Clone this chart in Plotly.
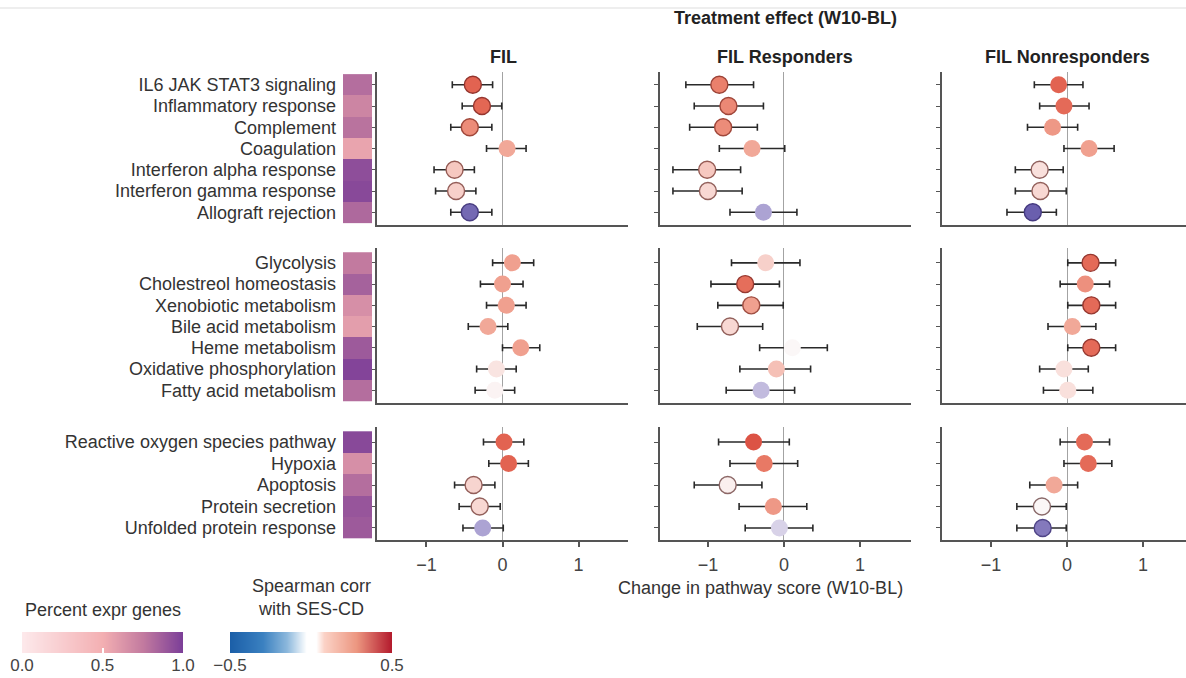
import plotly.graph_objects as go

W, H = 1186, 678

# ---------------- data ----------------
pathways = [
    "IL6 JAK STAT3 signaling", "Inflammatory response", "Complement", "Coagulation",
    "Interferon alpha response", "Interferon gamma response", "Allograft rejection",
    "Glycolysis", "Cholestreol homeostasis", "Xenobiotic metabolism", "Bile acid metabolism",
    "Heme metabolism", "Oxidative phosphorylation", "Fatty acid metabolism",
    "Reactive oxygen species pathway", "Hypoxia", "Apoptosis", "Protein secretion",
    "Unfolded protein response",
]
group_sizes = [7, 7, 5]
cohorts = ["FIL", "FIL Responders", "FIL Nonresponders"]

# percent of expressed genes (left strip)
pct_expr = [0.80, 0.70, 0.78, 0.55, 0.93, 0.95, 0.82,
            0.75, 0.85, 0.65, 0.58, 0.88, 0.97, 0.80,
            0.95, 0.65, 0.80, 0.90, 0.88]

# FIL
fil_est = [-0.39, -0.27, -0.43, 0.06, -0.63, -0.61, -0.43,
           0.13, 0.00, 0.05, -0.19, 0.24, -0.08, -0.10,
           0.02, 0.08, -0.38, -0.30, -0.26]
fil_lo = [-0.66, -0.53, -0.68, -0.21, -0.90, -0.88, -0.68,
          -0.13, -0.29, -0.21, -0.45, 0.00, -0.34, -0.36,
          -0.25, -0.18, -0.63, -0.57, -0.52]
fil_hi = [-0.13, -0.01, -0.14, 0.31, -0.37, -0.35, -0.14,
          0.41, 0.27, 0.31, 0.07, 0.49, 0.18, 0.16,
          0.28, 0.34, -0.10, -0.03, 0.01]
fil_corr = [0.38, 0.37, 0.27, 0.20, 0.12, 0.10, -0.27,
            0.22, 0.22, 0.22, 0.20, 0.22, 0.05, 0.01,
            0.38, 0.38, 0.09, 0.08, -0.12]

# FIL responders
resp_est = [-0.85, -0.73, -0.80, -0.42, -1.01, -1.00, -0.27,
            -0.24, -0.51, -0.43, -0.71, 0.11, -0.10, -0.30,
            -0.40, -0.26, -0.74, -0.14, -0.06]
resp_lo = [-1.29, -1.18, -1.24, -0.85, -1.46, -1.46, -0.71,
           -0.69, -0.96, -0.87, -1.14, -0.32, -0.58, -0.76,
           -0.86, -0.71, -1.18, -0.59, -0.51]
resp_hi = [-0.40, -0.27, -0.35, 0.01, -0.57, -0.55, 0.17,
           0.21, -0.06, -0.01, -0.28, 0.57, 0.35, 0.14,
           0.07, 0.18, -0.29, 0.30, 0.38]
resp_corr = [0.30, 0.28, 0.27, 0.20, 0.12, 0.08, -0.12,
             0.10, 0.35, 0.22, 0.08, 0.00, 0.14, -0.08,
             0.42, 0.32, 0.02, 0.24, -0.05]

# FIL nonresponders
nonr_est = [-0.11, -0.04, -0.19, 0.29, -0.36, -0.35, -0.45,
            0.31, 0.24, 0.32, 0.07, 0.32, -0.04, 0.01,
            0.23, 0.28, -0.17, -0.33, -0.32]
nonr_lo = [-0.43, -0.36, -0.52, -0.04, -0.68, -0.68, -0.79,
           0.01, -0.09, 0.01, -0.25, 0.01, -0.36, -0.31,
           -0.09, -0.04, -0.49, -0.66, -0.66]
nonr_hi = [0.21, 0.29, 0.14, 0.62, -0.05, -0.01, -0.14,
           0.64, 0.56, 0.64, 0.38, 0.64, 0.28, 0.34,
           0.56, 0.59, 0.14, -0.01, -0.01]
nonr_corr = [0.38, 0.36, 0.24, 0.22, 0.06, 0.08, -0.30,
             0.36, 0.26, 0.36, 0.20, 0.36, 0.06, 0.06,
             0.36, 0.36, 0.20, 0.00, -0.22]

x_ticks = [-1, 0, 1]
x_ticktext = ["\u22121", "0", "1"]

# legend scales (tick values)
pct_legend_ticks = [0, 0.5, 1]
pct_legend_text = ["0.0", "0.5", "1.0"]
corr_legend_ticks = [-0.5, 0.5]
corr_legend_text = ["\u22120.5", "0.5"]

# ---------------- styles ----------------
FONT = 'Arial, "Liberation Sans", sans-serif'
FS = 18
pct_scale = [[0, "#fde9eb"], [0.5, "#f3afb2"], [0.75, "#c27a9f"], [1, "#7a3d98"]]
pt_scale = [[0, "#3c3090"], [0.2, "#6a5fae"], [0.3, "#8a80c0"], [0.4, "#b4acd8"],
            [0.5, "#fbf7f7"], [0.6, "#f7d0ca"], [0.7, "#f1a898"], [0.8, "#ea806c"],
            [0.9, "#e05c4a"], [1, "#cc3030"]]
pt_line_scale = [[0, "#2a2270"], [0.3, "#524688"], [0.5, "#8a6a6a"],
                 [0.75, "#a24a3c"], [1, "#862020"]]
legend_corr_scale = [[0, "#1b5fa8"], [0.2, "#3a80c0"], [0.35, "#8cb8dc"],
                     [0.47, "#ffffff"], [0.53, "#ffffff"], [0.58, "#fbd2c6"],
                     [0.78, "#ec9680"], [1, "#b2182b"]]

col_px = [(377, 628), (660, 911), (942, 1186)]
col_rng = [(-1.65, 1.65), (-1.63, 1.67), (-1.645, 1.566)]
grp_px = [(72, 225), (248, 403), (427, 540)]
grp_rng = [(6.6, -0.6), (6.6, -0.7), (4.56, -0.7)]

def px_x(p):
    return p / W

def px_y(p):
    return 1 - p / H

series = [
    (fil_est, fil_lo, fil_hi, fil_corr),
    (resp_est, resp_lo, resp_hi, resp_corr),
    (nonr_est, nonr_lo, nonr_hi, nonr_corr),
]

fig = go.Figure()
layout = dict(
    width=W, height=H, margin=dict(l=0, r=0, t=0, b=0, pad=0, autoexpand=False),
    plot_bgcolor="white", paper_bgcolor="white", showlegend=False,
    font=dict(family=FONT, size=FS, color="#333"),
)

AX = "#555"
starts = [sum(group_sizes[:g]) for g in range(3)]

for g, n in enumerate(group_sizes):
    s = starts[g]
    rows = list(range(n))
    for c in range(3):
        k = g * 3 + c + 1
        xs = "" if k == 1 else str(k)
        est, lo, hi, corr = [arr[s:s + n] for arr in series[c]]
        sig = [(h < 0) or (l > 0) for l, h in zip(lo, hi)]
        fig.add_trace(go.Scatter(
            x=est, y=rows, mode="markers",
            xaxis="x" + xs, yaxis="y" + xs,
            error_x=dict(type="data", symmetric=False,
                         array=[h - e for h, e in zip(hi, est)],
                         arrayminus=[e - l for e, l in zip(est, lo)],
                         color="#2a2a2a", thickness=1.6, width=3.5),
            marker=dict(size=17, color=corr, colorscale=pt_scale, cmin=-0.5, cmax=0.5,
                        line=dict(color=corr, colorscale=pt_line_scale, cmin=-0.5, cmax=0.5,
                                  width=[1.4 if q else 0 for q in sig])),
            hoverinfo="skip",
        ))
        layout["xaxis" + xs] = dict(
            domain=[px_x(col_px[c][0]), px_x(col_px[c][1])], range=list(col_rng[c]),
            anchor="y" + xs, showline=True, linecolor=AX, linewidth=1.5,
            showgrid=False, zeroline=True, zerolinecolor="#a3a3a3", zerolinewidth=1,
            tickvals=x_ticks, ticktext=x_ticktext,
            ticks="outside" if g == 2 else "", ticklen=5, tickwidth=1.5, tickcolor=AX,
            showticklabels=(g == 2), tickfont=dict(size=FS, color="#444"),
            ticklabelstandoff=3, fixedrange=True,
        )
        layout["yaxis" + xs] = dict(
            domain=[px_y(grp_px[g][1]), px_y(grp_px[g][0])], range=list(grp_rng[g]),
            anchor="x" + xs, showline=True, linecolor=AX, linewidth=1.5,
            showgrid=False, zeroline=False, tickvals=rows, ticks="outside",
            ticklen=4, tickwidth=1.2, tickcolor=AX, showticklabels=False, fixedrange=True,
        )
    # percent-expressed strip with pathway labels
    k = 10 + g
    fig.add_trace(go.Heatmap(
        x=[0], y=rows, z=[[p] for p in pct_expr[s:s + n]],
        colorscale=pct_scale, zmin=0, zmax=1, showscale=False,
        xaxis="x%d" % k, yaxis="y%d" % k, hoverinfo="skip",
    ))
    layout["xaxis%d" % k] = dict(domain=[px_x(343), px_x(372)], range=[-0.5, 0.5],
                                 anchor="y%d" % k, visible=False, fixedrange=True)
    layout["yaxis%d" % k] = dict(
        domain=[px_y(grp_px[g][1]), px_y(grp_px[g][0])], range=list(grp_rng[g]),
        anchor="x%d" % k, showline=False, ticks="", showgrid=False, zeroline=False,
        tickvals=rows, ticktext=pathways[s:s + n], tickfont=dict(size=FS, color="#333"),
        ticklabelstandoff=6, fixedrange=True,
    )

# ---- legends (gradient bars on their own small axes) ----
legends = [
    (13, pct_legend_ticks, pct_legend_text, pct_scale, (22, 183)),
    (14, corr_legend_ticks, corr_legend_text, legend_corr_scale, (230, 392)),
]
for k, tv, tt, scale, (x0, x1) in legends:
    fig.add_trace(go.Heatmap(
        x=[tv[0], tv[-1]], y=[0], z=[[tv[0], tv[-1]]], zsmooth="best",
        colorscale=scale, zmin=tv[0], zmax=tv[-1], showscale=False,
        xaxis="x%d" % k, yaxis="y%d" % k, hoverinfo="skip",
    ))
    layout["xaxis%d" % k] = dict(
        domain=[px_x(x0), px_x(x1)], range=[tv[0], tv[-1]], anchor="y%d" % k,
        showline=False, showgrid=False, zeroline=False, tickvals=tv, ticktext=tt,
        ticks="inside", ticklen=5, tickwidth=1.5, tickcolor="white",
        tickfont=dict(size=17, color="#444"), ticklabelstandoff=0, fixedrange=True,
    )
    layout["yaxis%d" % k] = dict(
        domain=[px_y(653), px_y(632)], range=[-0.5, 0.5], anchor="x%d" % k,
        visible=False, fixedrange=True,
    )

annotations = [
    dict(text="<b>Treatment effect (W10-BL)</b>", x=px_x(785), y=px_y(18),
         font=dict(size=FS, color="#222")),
    dict(text="Change in pathway score (W10-BL)", x=px_x(760), y=px_y(588),
         font=dict(size=FS, color="#333")),
    dict(text="Percent expr genes", x=px_x(103), y=px_y(610),
         font=dict(size=FS, color="#333")),
    dict(text="Spearman corr<br>with SES-CD", x=px_x(311), y=px_y(597),
         font=dict(size=FS, color="#333")),
]
for c, name in enumerate(cohorts):
    annotations.append(dict(text="<b>%s</b>" % name, x=px_x([503, 785, 1067][c]), y=px_y(57),
                            font=dict(size=FS, color="#222")))
for a in annotations:
    a.update(xref="paper", yref="paper", showarrow=False, xanchor="center", yanchor="middle")
layout["annotations"] = annotations
layout["shapes"] = [dict(type="line", xref="paper", yref="paper", x0=0, x1=1,
                         y0=px_y(8), y1=px_y(8), line=dict(color="#dddddd", width=1))]

fig.update_layout(**layout)
fig.write_html("out.html", config={"displayModeBar": False},
               post_script="document.body.style.margin='0';document.body.style.overflow='hidden';")
